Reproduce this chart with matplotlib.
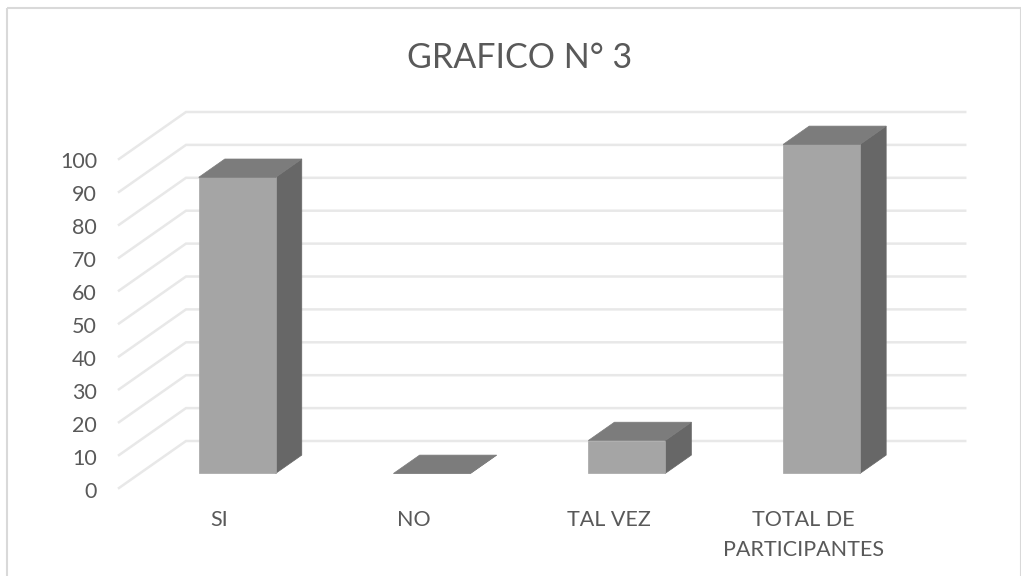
import numpy as np
import matplotlib
matplotlib.use('Agg')
import matplotlib.pyplot as plt
from matplotlib.patches import Polygon, Rectangle

categories = ['SI', 'NO', 'TAL VEZ', 'TOTAL DE\nPARTICIPANTES']
values = [90, 0, 10, 100]
ticks = [0, 10, 20, 30, 40, 50, 60, 70, 80, 90, 100]

W, H = 1021, 576
# fake 3d box: origin, size of one category / one unit, and wall depth, all in pixels
X0, Y0 = 119, 488
CAT_W = 194.8
UNIT = 3.29
DEPTH_X, DEPTH_Y = 67, 47
BAR_W = 0.395
D_FRONT, D_BACK = 0.31, 0.70

TEXT = '#595959'
GRID = '#e8e8e8'
FRONT = '#a5a5a5'
TOP = '#7c7c7c'
SIDE = '#676767'


def project(u, v, d):
    return X0 + CAT_W * u + DEPTH_X * d, Y0 - UNIT * v - DEPTH_Y * d


plt.rcParams['font.family'] = ['Lato', 'DejaVu Sans']
fig = plt.figure(figsize=(W / 100, H / 100), dpi=100)
ax = fig.add_axes([0, 0, 1, 1])
ax.set_xlim(0, W)
ax.set_ylim(H, 0)
ax.axis('off')

ax.add_patch(Rectangle((7, 8), 1013.5, 580, fill=False, ec='#d9d9d9', lw=1.5))
ax.text(519.5, 58, 'GRAFICO N° 3', ha='center', va='center', fontsize=24.5, color=TEXT)

n = len(categories)
for t in ticks:
    a = project(0, t, 0)
    b = project(0, t, 1)
    c = project(n, t, 1)
    ax.plot([a[0], b[0], c[0]], [a[1], b[1], c[1]], color=GRID, lw=1.8, zorder=1,
            solid_joinstyle='miter')
    ax.text(97, a[1] + 3.5, str(t), ha='right', va='center', fontsize=15.5, color=TEXT)

for i, (name, val) in enumerate(zip(categories, values)):
    l, r = i + 0.5 - BAR_W / 2, i + 0.5 + BAR_W / 2
    front = [project(l, 0, D_FRONT), project(r, 0, D_FRONT),
             project(r, val, D_FRONT), project(l, val, D_FRONT)]
    side = [project(r, 0, D_FRONT), project(r, 0, D_BACK),
            project(r, val, D_BACK), project(r, val, D_FRONT)]
    top = [project(l, val, D_FRONT), project(r, val, D_FRONT),
           project(r, val, D_BACK), project(l, val, D_BACK)]
    for pts, col in [(side, SIDE), (front, FRONT), (top, TOP)]:
        ax.add_patch(Polygon(pts, closed=True, fc=col, ec=col, lw=0.5, zorder=3))
    lx = X0 + CAT_W * (i + 0.5) + 2.5
    ax.text(lx, 510, name, ha='center', va='top', fontsize=15.5, color=TEXT,
            linespacing=1.65)

fig.savefig('out.png', dpi=100)
